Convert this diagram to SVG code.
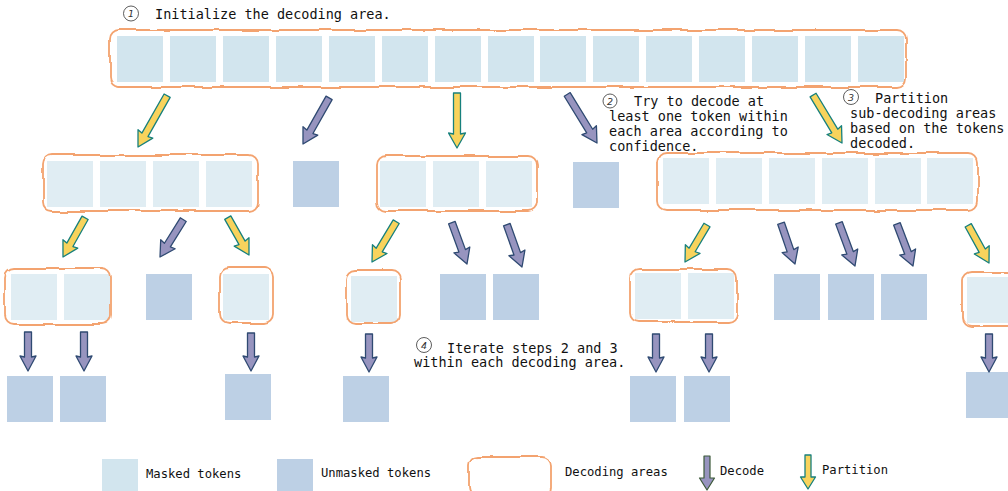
<svg xmlns="http://www.w3.org/2000/svg" width="1008" height="491" viewBox="0 0 1008 491">
<style>
.bg{fill:#ffffff}
.m{fill:#d2e5ee}
.m2{fill:#e0edf3}
.u{fill:#bdd0e5}
.area{fill:none;stroke:#f3a36f;stroke-width:1.8;filter:url(#wob)}
.dec{fill:#9794bf;stroke:#2f4a72;stroke-width:1.3;stroke-linejoin:round}
.decl{fill:#9794bf;stroke:#3d5a3a;stroke-width:1.2;stroke-linejoin:round}
.par{fill:#f8d35c;stroke:#17807d;stroke-width:1.3;stroke-linejoin:round}
.t{font-family:"DejaVu Sans Mono","Liberation Mono",monospace;font-size:13.5px;fill:#111}
.lt{font-family:"DejaVu Sans Mono","Liberation Mono",monospace;font-size:12.2px;fill:#111}
.cn{fill:none;stroke:#333;stroke-width:0.8}
.cd{font-family:"DejaVu Sans","Liberation Sans",sans-serif;font-size:9.5px;font-style:italic;fill:#333;text-anchor:middle}
</style>
<defs>
<filter id="wob" x="-10%" y="-40%" width="120%" height="180%">
<feTurbulence type="fractalNoise" baseFrequency="0.035" numOctaves="2" seed="4" result="n"/>
<feDisplacementMap in="SourceGraphic" in2="n" scale="5" xChannelSelector="R" yChannelSelector="G"/>
</filter>
</defs>
<rect class="bg" x="0" y="0" width="1008" height="491"/>

<!-- Row 1 -->
<g id="area-root">
<rect class="m" x="117" y="36" width="46" height="46"/>
<rect class="m" x="170" y="36" width="46" height="46"/>
<rect class="m" x="223" y="36" width="46" height="46"/>
<rect class="m" x="276" y="36" width="46" height="46"/>
<rect class="m" x="329" y="36" width="46" height="46"/>
<rect class="m" x="382" y="36" width="46" height="46"/>
<rect class="m" x="435" y="36" width="46" height="46"/>
<rect class="m" x="488" y="36" width="46" height="46"/>
<rect class="m" x="540" y="36" width="46" height="46"/>
<rect class="m" x="593" y="36" width="46" height="46"/>
<rect class="m" x="646" y="36" width="46" height="46"/>
<rect class="m" x="699" y="36" width="46" height="46"/>
<rect class="m" x="752" y="36" width="46" height="46"/>
<rect class="m" x="805" y="36" width="46" height="46"/>
<rect class="m" x="858" y="36" width="46" height="46"/>
<rect class="area" x="110" y="30" width="796" height="57" rx="9"/>
</g>

<!-- Row 2 -->
<g id="area-2a">
<rect class="m2" x="47" y="161" width="46" height="46"/>
<rect class="m2" x="100" y="161" width="46" height="46"/>
<rect class="m2" x="153" y="161" width="46" height="46"/>
<rect class="m2" x="206" y="161" width="46" height="46"/>
<rect class="area" x="43" y="155" width="215" height="56" rx="9"/>
</g>
<g id="tok-2a"><rect class="u" x="293" y="161" width="46" height="46"/></g>
<g id="area-2b">
<rect class="m2" x="380" y="161" width="46" height="46"/>
<rect class="m2" x="433" y="161" width="46" height="46"/>
<rect class="m2" x="486" y="161" width="46" height="46"/>
<rect class="area" x="377" y="156" width="160" height="55" rx="9"/>
</g>
<g id="tok-2b"><rect class="u" x="573" y="162" width="46" height="46"/></g>
<g id="area-2c">
<rect class="m2" x="663" y="158" width="46" height="46"/>
<rect class="m2" x="716" y="158" width="46" height="46"/>
<rect class="m2" x="769" y="158" width="46" height="46"/>
<rect class="m2" x="822" y="158" width="46" height="46"/>
<rect class="m2" x="875" y="158" width="46" height="46"/>
<rect class="m2" x="927" y="158" width="46" height="46"/>
<rect class="area" x="657" y="153" width="321" height="57" rx="9"/>
</g>

<!-- Row 3 -->
<g id="area-3a">
<rect class="m2" x="11" y="274" width="46" height="46"/>
<rect class="m2" x="64" y="274" width="46" height="46"/>
<rect class="area" x="5" y="268" width="106" height="56" rx="9"/>
</g>
<g id="tok-3a"><rect class="u" x="146" y="274" width="46" height="46"/></g>
<g id="area-3b">
<rect class="m2" x="223" y="274" width="46" height="46"/>
<rect class="area" x="220" y="268" width="53" height="55" rx="9"/>
</g>
<g id="area-3c">
<rect class="m2" x="351" y="276" width="46" height="46"/>
<rect class="area" x="347" y="271" width="53" height="53" rx="9"/>
</g>
<g id="tok-3b"><rect class="u" x="440" y="274" width="46" height="46"/></g>
<g id="tok-3c"><rect class="u" x="493" y="274" width="46" height="46"/></g>
<g id="area-3d">
<rect class="m2" x="635" y="273" width="46" height="46"/>
<rect class="m2" x="688" y="273" width="46" height="46"/>
<rect class="area" x="630" y="269" width="107" height="53" rx="9"/>
</g>
<g id="tok-3d"><rect class="u" x="774" y="274" width="46" height="46"/></g>
<g id="tok-3e"><rect class="u" x="828" y="274" width="46" height="46"/></g>
<g id="tok-3f"><rect class="u" x="881" y="274" width="46" height="46"/></g>
<g id="area-3e">
<rect class="m2" x="967" y="277" width="46" height="46"/>
<rect class="area" x="963" y="272" width="56" height="54" rx="9"/>
</g>

<!-- Row 4 -->
<g id="tok-4a"><rect class="u" x="7" y="376" width="46" height="46"/></g>
<g id="tok-4b"><rect class="u" x="60" y="376" width="46" height="46"/></g>
<g id="tok-4c"><rect class="u" x="225" y="374" width="46" height="46"/></g>
<g id="tok-4d"><rect class="u" x="343" y="376" width="46" height="46"/></g>
<g id="tok-4e"><rect class="u" x="630" y="376" width="46" height="46"/></g>
<g id="tok-4f"><rect class="u" x="684" y="376" width="46" height="46"/></g>
<g id="tok-4g"><rect class="u" x="966" y="372" width="46" height="46"/></g>

<!-- Connectors -->
<g id="connectors">
<path class="par" transform="translate(138,147) rotate(29.6)" d="M-3.5,-59 L3.5,-59 L3.5,-14 L8.5,-15 L0,0 L-8.5,-15 L-3.5,-14 Z"/>
<path class="dec" transform="translate(303,144) rotate(29.5)" d="M-3.5,-53 L3.5,-53 L3.5,-14 L8.5,-15 L0,0 L-8.5,-15 L-3.5,-14 Z"/>
<path class="par" transform="translate(457,148)" d="M-3.5,-55 L3.5,-55 L3.5,-14 L8.5,-15 L0,0 L-8.5,-15 L-3.5,-14 Z"/>
<path class="dec" transform="translate(597,143) rotate(-31.5)" d="M-3.5,-57 L3.5,-57 L3.5,-14 L8.5,-15 L0,0 L-8.5,-15 L-3.5,-14 Z"/>
<path class="par" transform="translate(842,143) rotate(-31.1)" d="M-3.5,-56 L3.5,-56 L3.5,-14 L8.5,-15 L0,0 L-8.5,-15 L-3.5,-14 Z"/>

<path class="par" transform="translate(63,257) rotate(29.4)" d="M-3.5,-45 L3.5,-45 L3.5,-14 L8.5,-15 L0,0 L-8.5,-15 L-3.5,-14 Z"/>
<path class="dec" transform="translate(160,257) rotate(31.9)" d="M-3.5,-44 L3.5,-44 L3.5,-14 L8.5,-15 L0,0 L-8.5,-15 L-3.5,-14 Z"/>
<path class="par" transform="translate(249,255) rotate(-29.6)" d="M-3.5,-43 L3.5,-43 L3.5,-14 L8.5,-15 L0,0 L-8.5,-15 L-3.5,-14 Z"/>
<path class="par" transform="translate(372,262) rotate(31)" d="M-3.5,-47 L3.5,-47 L3.5,-14 L8.5,-15 L0,0 L-8.5,-15 L-3.5,-14 Z"/>
<path class="dec" transform="translate(467,264) rotate(-20.1)" d="M-3.5,-44 L3.5,-44 L3.5,-14 L8.5,-15 L0,0 L-8.5,-15 L-3.5,-14 Z"/>
<path class="dec" transform="translate(522,267) rotate(-19.7)" d="M-3.5,-45 L3.5,-45 L3.5,-14 L8.5,-15 L0,0 L-8.5,-15 L-3.5,-14 Z"/>
<path class="par" transform="translate(685,262) rotate(30.7)" d="M-3.5,-43 L3.5,-43 L3.5,-14 L8.5,-15 L0,0 L-8.5,-15 L-3.5,-14 Z"/>
<path class="dec" transform="translate(795,264) rotate(-18.9)" d="M-3.5,-43 L3.5,-43 L3.5,-14 L8.5,-15 L0,0 L-8.5,-15 L-3.5,-14 Z"/>
<path class="dec" transform="translate(855,266) rotate(-20.4)" d="M-3.5,-46 L3.5,-46 L3.5,-14 L8.5,-15 L0,0 L-8.5,-15 L-3.5,-14 Z"/>
<path class="dec" transform="translate(913,266) rotate(-20.9)" d="M-3.5,-45 L3.5,-45 L3.5,-14 L8.5,-15 L0,0 L-8.5,-15 L-3.5,-14 Z"/>
<path class="par" transform="translate(989,263) rotate(-28.9)" d="M-3.5,-43 L3.5,-43 L3.5,-14 L8.5,-15 L0,0 L-8.5,-15 L-3.5,-14 Z"/>

<path class="dec" transform="translate(28,371)" d="M-3.5,-39 L3.5,-39 L3.5,-14 L8,-15 L0,0 L-8,-15 L-3.5,-14 Z"/>
<path class="dec" transform="translate(84,371)" d="M-3.5,-39 L3.5,-39 L3.5,-14 L8,-15 L0,0 L-8,-15 L-3.5,-14 Z"/>
<path class="dec" transform="translate(251,371)" d="M-3.5,-38 L3.5,-38 L3.5,-14 L8,-15 L0,0 L-8,-15 L-3.5,-14 Z"/>
<path class="dec" transform="translate(369,372)" d="M-3.5,-38 L3.5,-38 L3.5,-14 L8,-15 L0,0 L-8,-15 L-3.5,-14 Z"/>
<path class="dec" transform="translate(656,372)" d="M-3.5,-38 L3.5,-38 L3.5,-14 L8,-15 L0,0 L-8,-15 L-3.5,-14 Z"/>
<path class="dec" transform="translate(709,372)" d="M-3.5,-38 L3.5,-38 L3.5,-14 L8,-15 L0,0 L-8,-15 L-3.5,-14 Z"/>
<path class="dec" transform="translate(989,372)" d="M-3.5,-38 L3.5,-38 L3.5,-14 L8,-15 L0,0 L-8,-15 L-3.5,-14 Z"/>
</g>

<!-- Annotations -->
<g id="note-1">
<circle class="cn" cx="131" cy="13.5" r="7.5"/>
<text class="cd" x="131" y="17">1</text>
<text class="t" x="155" y="19">Initialize the decoding area.</text>
</g>
<g id="note-2">
<circle class="cn" cx="610" cy="101" r="7"/>
<text class="cd" x="610" y="104.5">2</text>
<text class="t" x="634" y="106">Try to decode at</text>
<text class="t" x="609" y="121">least one token within</text>
<text class="t" x="609" y="136">each area according to</text>
<text class="t" x="609" y="151">confidence.</text>
</g>
<g id="note-3">
<circle class="cn" cx="851" cy="97" r="7.5"/>
<text class="cd" x="851" y="100.5">3</text>
<text class="t" x="875" y="103">Partition</text>
<text class="t" x="850" y="118">sub-decoding areas</text>
<text class="t" x="850" y="133">based on the tokens</text>
<text class="t" x="850" y="148">decoded.</text>
</g>
<g id="note-4">
<circle class="cn" cx="424" cy="345" r="7.5"/>
<text class="cd" x="424" y="348.5">4</text>
<text class="t" x="447" y="353">Iterate steps 2 and 3</text>
<text class="t" x="414" y="367">within each decoding area.</text>
</g>

<!-- Legend -->
<g id="legend">
<rect class="m" x="102" y="459" width="36" height="36"/>
<text class="lt" x="146" y="478">Masked tokens</text>
<rect class="u" x="277" y="459" width="36" height="36"/>
<text class="lt" x="321" y="477">Unmasked tokens</text>
<rect class="area" x="469" y="457" width="82" height="40" rx="9"/>
<text class="lt" x="565" y="476">Decoding areas</text>
<path class="decl" transform="translate(707,490)" d="M-3,-34 L3,-34 L3,-12 L7.5,-12 L0,0 L-7.5,-12 L-3,-12 Z"/>
<text class="lt" x="720" y="475">Decode</text>
<path class="par" transform="translate(808,489)" d="M-3,-34 L3,-34 L3,-12 L7.5,-12 L0,0 L-7.5,-12 L-3,-12 Z"/>
<text class="lt" x="822" y="474">Partition</text>
</g>
</svg>
